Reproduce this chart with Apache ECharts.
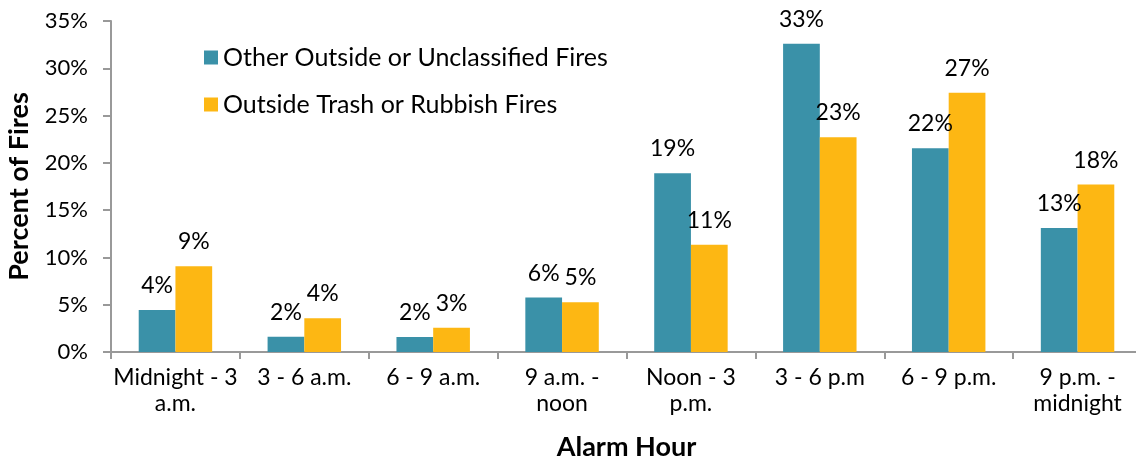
<!DOCTYPE html>
<html>
<head>
<meta charset="utf-8">
<title>Alarm Hour</title>
<script src="https://cdn.jsdelivr.net/npm/echarts@6/dist/echarts.min.js"></script>
<style>
  html, body { margin: 0; padding: 0; background: #fff; }
  #chart { width: 1136px; height: 457px; }
</style>
</head>
<body>
<div id="chart"></div>
<script>
// 报警时段
var hours = ['Midnight - 3\na.m.', '3 - 6 a.m.', '6 - 9 a.m.', '9 a.m. -\nnoon', 'Noon - 3\np.m.', '3 - 6 p.m', '6 - 9 p.m.', '9 p.m. -\nmidnight'];
var otherFires = [4.45, 1.62, 1.59, 5.75, 18.9, 32.6, 21.55, 13.1];
var trashFires = [9.06, 3.56, 2.57, 5.25, 11.33, 22.7, 27.4, 17.7];
var yTicks = [0, 5, 10, 15, 20, 25, 30, 35];

var font = 'Lato';
var teal = '#3a91a8';
var yellow = '#fdb713';

var myChart = echarts.init(document.getElementById('chart'));

function barLabel() {
    return {
        show: true,
        position: 'top',
        distance: 13,
        fontFamily: font,
        fontSize: 23,
        color: '#000',
        formatter: function (p) { return Math.round(p.value) + '%'; }
    };
}

myChart.setOption({
    animation: false,
    textStyle: { fontFamily: font },
    legend: {
        orient: 'vertical',
        left: 199,
        top: 40,
        itemWidth: 14,
        itemHeight: 14,
        itemGap: 22,
        icon: 'rect',
        textStyle: { fontFamily: font, fontSize: 25, color: '#000' },
        data: ['Other Outside or Unclassified Fires', 'Outside Trash or Rubbish Fires']
    },
    grid: {
        left: 111,
        right: -6,
        top: 21,
        bottom: 105,
        containLabel: false,
        outerBoundsMode: 'none'
    },
    xAxis: {
        type: 'category',
        data: hours,
        name: 'Alarm Hour',
        nameLocation: 'middle',
        nameGap: 82,
        nameTextStyle: { fontFamily: font, fontSize: 27, fontWeight: 'bold', color: '#000', verticalAlign: 'top' },
        axisLine: { lineStyle: { color: '#999', width: 2 } },
        axisTick: { show: true, length: 7, lineStyle: { color: '#999', width: 2 } },
        axisLabel: {
            interval: 0,
            margin: 13,
            fontFamily: font,
            fontSize: 23,
            lineHeight: 26,
            color: '#000'
        }
    },
    yAxis: {
        type: 'value',
        min: yTicks[0],
        max: yTicks[yTicks.length - 1],
        interval: 5,
        name: 'Percent of Fires',
        nameLocation: 'middle',
        nameGap: 78,
        nameTextStyle: { fontFamily: font, fontSize: 27, fontWeight: 'bold', color: '#000' },
        splitLine: { show: false },
        axisLine: { show: true, lineStyle: { color: '#999', width: 2 } },
        axisTick: { show: true, length: 8, lineStyle: { color: '#999', width: 2 } },
        axisLabel: {
            margin: 23,
            fontFamily: font,
            fontSize: 22,
            color: '#000',
            formatter: '{value}%'
        }
    },
    series: [
        {
            name: 'Other Outside or Unclassified Fires',
            type: 'bar',
            barWidth: '28.5%',
            barGap: '0%',
            itemStyle: { color: teal },
            label: barLabel(),
            data: otherFires
        },
        {
            name: 'Outside Trash or Rubbish Fires',
            type: 'bar',
            barWidth: '28.5%',
            barGap: '0%',
            itemStyle: { color: yellow },
            label: barLabel(),
            data: trashFires
        }
    ]
});
</script>
</body>
</html>
